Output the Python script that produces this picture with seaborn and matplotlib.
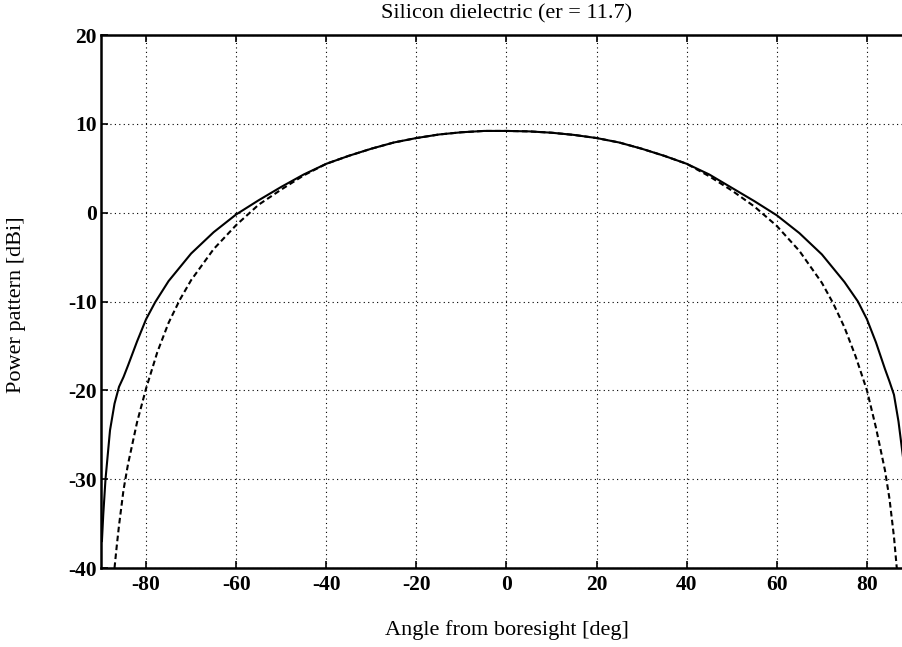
import numpy as np
import pandas as pd
import matplotlib
matplotlib.use("Agg")
import matplotlib.pyplot as plt
import seaborn as sns

# ---- data ----
angles_solid = [-89.8, -89.5, -89, -88, -87, -86, -85, -84, -82, -80, -78, -75, -70, -65, -60,
                -55, -50, -45, -40, -35, -30, -25, -20, -15, -10, -5, 0, 5, 10, 15, 20, 25, 30,
                35, 40, 45, 50, 55, 60, 65, 70, 75, 78, 80, 82, 84, 85, 86, 87, 88, 89, 89.5]
power_solid = [-37, -34, -30, -24.5, -21.5, -19.6, -18.5, -17.2, -14.5, -12, -10.1, -7.7, -4.6,
               -2.2, -0.2, 1.4, 2.9, 4.3, 5.5, 6.4, 7.2, 7.9, 8.4, 8.8, 9.05, 9.2, 9.2, 9.15,
               9.0, 8.75, 8.4, 7.9, 7.2, 6.4, 5.5, 4.3, 2.8, 1.3, -0.3, -2.3, -4.7, -7.8,
               -10.0, -12.0, -14.6, -17.6, -19.0, -20.5, -23.5, -27.5, -32, -37]

angles_dash = [-87.2, -86.5, -86, -85, -84, -82, -80, -77.5, -75, -72.5, -70, -65, -60, -55,
               -50, -45, -40, -35, -30, -25, -20, -15, -10, -5, 0, 5, 10, 15, 20, 25, 30, 35,
               40, 45, 50, 55, 60, 65, 70, 72.5, 75, 77.5, 80, 82, 84, 85, 86, 86.8]
power_dash = [-41, -37.5, -35.2, -31.2, -28.3, -23.6, -19.8, -15.7, -12.4, -9.8, -7.6, -4.1,
              -1.4, 0.9, 2.6, 4.2, 5.5, 6.4, 7.2, 7.9, 8.4, 8.8, 9.05, 9.2, 9.2, 9.15, 9.0,
              8.75, 8.4, 7.9, 7.2, 6.4, 5.5, 4.1, 2.5, 0.7, -1.5, -4.3, -7.9, -10.2, -12.9,
              -16.2, -20.0, -24.2, -29.0, -32.2, -36.5, -41]

x_ticks = [-80, -60, -40, -20, 0, 20, 40, 60, 80]
y_ticks = [-40, -30, -20, -10, 0, 10, 20]

title = "Silicon dielectric (er = 11.7)"
xlabel = "Angle from boresight [deg]"
ylabel = "Power pattern [dBi]"

# ---- plotting ----
sns.set_theme(style="white")
plt.rcParams["font.family"] = ["Liberation Serif", "DejaVu Serif"]

fig = plt.figure(figsize=(9.03, 6.47), dpi=100)
ax = fig.add_axes([101 / 903, 1 - 568 / 647, 811 / 903, 533 / 647])

df_s = pd.DataFrame({"angle": angles_solid, "power": power_solid})
df_d = pd.DataFrame({"angle": angles_dash, "power": power_dash})

sns.lineplot(data=df_s, x="angle", y="power", ax=ax, color="black", lw=1.5,
             estimator=None, sort=False)
sns.lineplot(data=df_d, x="angle", y="power", ax=ax, color="black", lw=1.5,
             estimator=None, sort=False)
ax.lines[-1].set_linestyle((0, (2.7, 1.6)))

ax.set_xlim(-90, 90)
ax.set_ylim(-40, 20)
ax.set_xticks(x_ticks)
ax.set_yticks(y_ticks)
fs_tick = 15.5
fs_text = 16
ax.set_xticklabels([str(t) for t in x_ticks], fontweight="bold", fontsize=fs_tick)
ax.set_yticklabels([str(t) for t in y_ticks], fontweight="bold", fontsize=fs_tick)
ax.tick_params(direction="in", length=5, width=1.2, color="black",
               bottom=True, left=True, top=True, right=True, labelcolor="black")
ax.tick_params(axis="x", pad=5)
ax.tick_params(axis="y", pad=3)

ax.grid(True, color="black", linestyle=(0, (1, 3)), linewidth=0.8)
for s in ax.spines.values():
    s.set_color("black")
    s.set_linewidth(1.8)

ax.set_title(title, fontsize=fs_text, pad=12, color="black")
ax.set_xlabel(xlabel, fontsize=fs_text, color="black", va="center")
ax.xaxis.set_label_coords(0.5006, (568 - 630) / 533)
ax.set_ylabel(ylabel, fontsize=fs_text, color="black", va="center")
ax.yaxis.set_label_coords((16 - 101) / 811, (568 - 305) / 533)

fig.savefig("out.png", dpi=100)
